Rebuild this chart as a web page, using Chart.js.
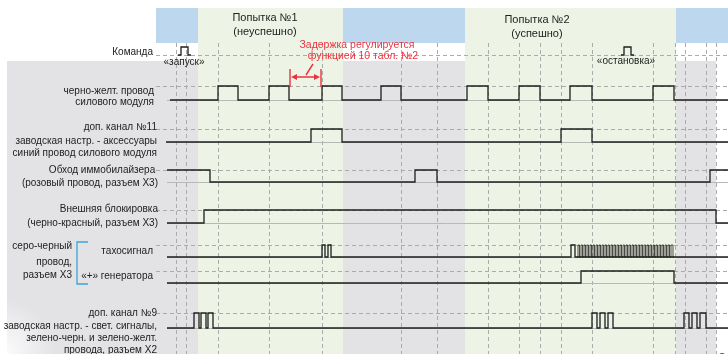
<!DOCTYPE html>
<html>
<head>
<meta charset="utf-8">
<script src="https://cdn.jsdelivr.net/npm/chart.js@4.4.1/dist/chart.umd.min.js"></script>
<style>
  html, body { margin: 0; padding: 0; background: #fff; }
  #wrap { width: 728px; height: 354px; position: relative; }
</style>
</head>
<body>
<div id="wrap"><canvas id="diagram"></canvas></div>
<script>
// ============================================================================
// DATA  (time in diagram units)
// ============================================================================

const bluePhases = [[156, 198], [343, 465], [676, 728]];
const attemptSpans = [[198, 343], [465, 676]];
const attemptTitles = ['Попытка №1', 'Попытка №2'];
const attemptResults = ['(неуспешно)', '(успешно)'];

const gridTimes = [176, 186, 218, 269, 322, 401, 437, 488, 519, 540, 561, 592, 653, 675, 685, 706, 716];

const commandPulses = [[181, 188], [624, 631]];
const commandNames = ['«запуск»', '«остановка»'];

// edge times: every value toggles the level
const yellowEdges = [218, 238, 269, 289, 322, 342, 381, 401, 467, 488, 519, 540, 570, 592, 653, 674];
const ch11Edges = [311, 342, 561, 592];
const immoEdges = [210, 415, 437, 710];          // starts high
const blockEdges = [204, 716];
const tachoEdges = [322, 325, 328, 331, 571, 575];
const tachoBurst = [
  578, 579.5, 581, 582.5, 584, 585.5, 587, 588.5, 590, 591.5, 593, 594.5, 596, 597.5,
  599, 600.5, 602, 603.5, 605, 606.5, 608, 609.5, 611, 612.5, 614, 615.5, 617, 618.5,
  620, 621.5, 623, 624.5, 626, 627.5, 629, 630.5, 632, 633.5, 635, 636.5, 638, 639.5,
  641, 642.5, 644, 645.5, 647, 648.5, 650, 651.5, 653, 654.5, 656, 657.5, 659, 660.5,
  662, 663.5, 665, 666.5, 668, 669.5, 671, 673];
const genEdges = [581, 674];
const ch9Edges = [194, 199, 201, 206, 208, 213, 592, 597, 600, 605, 608, 613, 684, 689, 692, 697, 700, 706];

const delayMark = [290, 321];
const delayText = ['Задержка регулируется', 'функцией 10 табл. №2'];

const rowLabels = [
    ['Команда'],
    ['черно-желт. провод', 'силового модуля'],
    ['доп. канал №11', 'заводская настр. - аксессуары', 'синий провод силового модуля'],
    ['Обход иммобилайзера ', '(розовый провод, разъем Х3)'],
    ['Внешняя блокировка', '(черно-красный, разъем Х3)'],
    ['тахосигнал'],
    ['«+» генератора'],
    ['доп. канал №9', 'заводская настр. - свет. сигналы,', 'зелено-черн. и зелено-желт.', 'провода, разъем Х2']
];
const groupLabel = ['серо-черный', 'провод,', 'разъем Х3'];

// ============================================================================
// LAYOUT
// ============================================================================

const lanes = {
    cmd:    { hi: 47,  lo: 55 },
    yellow: { hi: 86,  lo: 100 },
    ch11:   { hi: 129, lo: 142 },
    immo:   { hi: 170, lo: 182 },
    block:  { hi: 210, lo: 223 },
    tacho:  { hi: 245, lo: 257 },
    gen:    { hi: 271, lo: 283 },
    ch9:    { hi: 313, lo: 328 }
};
const laneOrder = ['cmd', 'yellow', 'ch11', 'immo', 'block', 'tacho', 'gen', 'ch9'];
const labelY = [[52], [91, 102], [127, 141, 153], [170, 183], [209, 223], [251], [276], [313, 326, 338, 350]];
const labelRight = [153, 154, 157, 158, 158, 153, 153, 157];

const INK = '#1e1e1e';
const RED = '#e8343f';
const FONT = '"Liberation Sans", Arial, sans-serif';

// ============================================================================
// HELPERS
// ============================================================================

function trace(edges, startHigh, lane, t0, t1) {
    let high = startHigh;
    const pts = [{ x: t0, y: high ? lane.hi : lane.lo }];
    edges.forEach(t => {
        high = !high;
        pts.push({ x: t, y: high ? lane.hi : lane.lo });
    });
    pts.push({ x: t1, y: high ? lane.hi : lane.lo });
    return pts;
}

function signal(data, width = 1.3) {
    return { data, borderColor: INK, borderWidth: width, stepped: true, pointRadius: 0, fill: false };
}

const datasets = [
    ...commandPulses.map(p => signal(trace(p, false, lanes.cmd, p[0] - 3, p[1] + 3))),
    signal(trace(yellowEdges, false, lanes.yellow, 170, 728)),
    signal(trace(ch11Edges, false, lanes.ch11, 166, 728)),
    signal(trace(immoEdges, true, lanes.immo, 167, 728)),
    signal(trace(blockEdges, false, lanes.block, 167, 728)),
    signal(trace(tachoEdges, false, lanes.tacho, 167, 728)),
    signal(trace(tachoBurst, false, lanes.tacho, 577, 674), 0.8),
    signal(trace(genEdges, false, lanes.gen, 167, 728)),
    signal(trace(ch9Edges, false, lanes.ch9, 167, 728))
];

// ============================================================================
// PLUGINS
// ============================================================================

const backdrop = {
    id: 'backdrop',
    beforeDatasetsDraw(chart) {
        const { ctx, scales: { x, y } } = chart;
        const X = v => x.getPixelForValue(v);
        const Y = v => y.getPixelForValue(v);
        ctx.save();

        // grey field, blue header, green attempts
        ctx.fillStyle = '#e3e3e6';
        ctx.fillRect(X(7), Y(61), X(716) - X(7), Y(354) - Y(61));
        ctx.fillStyle = '#bdd7ee';
        bluePhases.forEach(([a, b]) => ctx.fillRect(X(a), Y(8), X(b) - X(a), Y(43) - Y(8)));
        ctx.fillStyle = '#eef4e5';
        attemptSpans.forEach(([a, b]) => ctx.fillRect(X(a), Y(8), X(b) - X(a), Y(354) - Y(8)));

        // faded corner bottom-left (scan artefact)
        const g = ctx.createRadialGradient(X(0), Y(354), 0, X(0), Y(354), 55);
        g.addColorStop(0, 'rgba(255,255,255,0.95)');
        g.addColorStop(1, 'rgba(255,255,255,0)');
        ctx.fillStyle = g;
        ctx.fillRect(X(0), Y(300), 60, 54);

        // dashed grid
        ctx.strokeStyle = '#ababab';
        ctx.lineWidth = 1;
        ctx.setLineDash([4, 3]);
        gridTimes.forEach(t => {
            const px = Math.round(X(t)) + 0.5;
            ctx.beginPath();
            ctx.moveTo(px, Y(43));
            ctx.lineTo(px, Y(354));
            ctx.stroke();
        });
        laneOrder.forEach(k => {
            const py = Math.round(Y(k === 'cmd' ? lanes[k].lo : lanes[k].hi)) + 0.5;
            ctx.beginPath();
            ctx.moveTo(X(156), py);
            ctx.lineTo(X(728), py);
            ctx.stroke();
        });
        ctx.setLineDash([]);

        // light low-level baselines
        ctx.strokeStyle = '#b8b8b8';
        laneOrder.slice(1).forEach(k => {
            const py = Math.round(Y(lanes[k].lo)) + 0.5;
            ctx.beginPath();
            ctx.moveTo(X(167), py);
            ctx.lineTo(X(728), py);
            ctx.stroke();
        });
        ctx.restore();
    }
};

const annotations = {
    id: 'annotations',
    afterDatasetsDraw(chart) {
        const { ctx, scales: { x, y } } = chart;
        const X = v => x.getPixelForValue(v);
        const Y = v => y.getPixelForValue(v);
        ctx.save();
        ctx.fillStyle = '#222';
        ctx.textBaseline = 'middle';

        // row labels
        ctx.font = '10px ' + FONT;
        ctx.textAlign = 'right';
        rowLabels.forEach((lines, i) => {
            lines.forEach((txt, j) => ctx.fillText(txt, X(labelRight[i]), Y(labelY[i][j])));
        });
        [246, 262, 275].forEach((ly, j) => ctx.fillText(groupLabel[j], X(72), Y(ly)));

        // command names
        ctx.textAlign = 'center';
        ctx.fillText(commandNames[0], X(184), Y(62));
        ctx.fillText(commandNames[1], X(626), Y(61));

        // attempt headers
        ctx.font = '11px ' + FONT;
        attemptSpans.forEach(([a, b], i) => {
            const cx = i === 0 ? X(265) : X(537);
            ctx.fillText(attemptTitles[i], cx, Y(i === 0 ? 18 : 20));
            ctx.fillText(attemptResults[i], cx, Y(i === 0 ? 32 : 34));
        });

        // blue bracket
        ctx.strokeStyle = '#3aa6dd';
        ctx.lineWidth = 1.3;
        ctx.beginPath();
        ctx.moveTo(X(88), Y(242));
        ctx.lineTo(X(77), Y(242));
        ctx.lineTo(X(77), Y(284));
        ctx.lineTo(X(88), Y(284));
        ctx.stroke();

        // delay marker
        const [d0, d1] = delayMark;
        ctx.strokeStyle = RED;
        ctx.fillStyle = RED;
        ctx.lineWidth = 1.4;
        ctx.beginPath();
        ctx.moveTo(X(d0), Y(69)); ctx.lineTo(X(d0), Y(87));
        ctx.moveTo(X(d1), Y(69)); ctx.lineTo(X(d1), Y(87));
        ctx.moveTo(X(d0 + 4), Y(77)); ctx.lineTo(X(d1 - 4), Y(77));
        ctx.moveTo(X(313), Y(64)); ctx.lineTo(X(306), Y(75));
        ctx.stroke();
        ctx.beginPath();
        ctx.moveTo(X(d0 + 1), Y(77)); ctx.lineTo(X(d0 + 7), Y(74)); ctx.lineTo(X(d0 + 7), Y(80)); ctx.closePath();
        ctx.moveTo(X(d1 - 1), Y(77)); ctx.lineTo(X(d1 - 7), Y(74)); ctx.lineTo(X(d1 - 7), Y(80)); ctx.closePath();
        ctx.fill();
        ctx.font = '10.5px ' + FONT;
        ctx.fillText(delayText[0], X(357), Y(45));
        ctx.fillText(delayText[1], X(363), Y(56));

        // page number
        ctx.fillStyle = '#4a5670';
        ctx.font = 'bold 15px ' + FONT;
        ctx.textAlign = 'left';
        ctx.textBaseline = 'alphabetic';
        ctx.fillText('9', X(718), Y(363));
        ctx.restore();
    }
};

// ============================================================================
// CHART
// ============================================================================

new Chart(document.getElementById('diagram').getContext('2d'), {
    type: 'line',
    data: { datasets },
    options: {
        responsive: true,
        maintainAspectRatio: false,
        animation: false,
        layout: { padding: 0 },
        scales: {
            x: { type: 'linear', min: 0, max: 728, display: false },
            y: { type: 'linear', min: 0, max: 354, reverse: true, display: false }
        },
        plugins: { legend: { display: false }, tooltip: { enabled: false } },
        elements: { point: { radius: 0 }, line: { tension: 0 } }
    },
    plugins: [backdrop, annotations]
});
</script>
</body>
</html>
